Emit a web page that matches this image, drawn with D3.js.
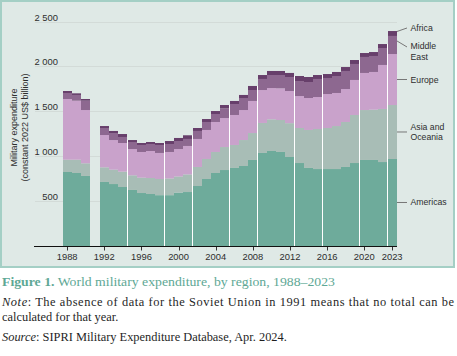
<!DOCTYPE html>
<html><head><meta charset="utf-8">
<script src="https://cdn.jsdelivr.net/npm/d3@7"></script>
<style>body{margin:0;background:#fff} svg{display:block}</style>
</head><body><svg id="c" width="457" height="356"></svg>
<script>
// ---- data (constant 2022 US$ billion); 1991 has no data ----
const years = d3.range(1988, 2024);
const americas = [824,813,780,null,713,690,657,624,590,579,566,566,595,601,668,746,813,846,869,891,958,1036,1058,1047,991,924,869,857,857,857,880,924,958,958,935,969];
const asiaOceania = [137,148,141,null,163,160,171,163,171,178,180,186,179,196,212,223,234,256,256,289,300,334,353,356,377,390,423,446,457,479,501,535,556,560,591,601];
const europe = [676,657,593,null,360,330,319,293,286,301,290,295,306,317,312,323,334,323,334,334,357,367,348,353,358,356,356,356,378,368,367,390,413,420,490,568];
const middleEast = [67,64,104,null,78,78,67,78,78,78,89,89,89,78,89,89,89,108,122,134,122,123,145,148,156,167,178,201,179,189,201,178,178,178,189,201];
const africa = [22,18,19,null,22,23,33,22,22,22,22,33,34,41,33,33,33,37,34,34,45,44,45,45,45,56,56,44,44,45,44,44,44,44,44,55];
const seriesKeys = ["americas","asia","europe","me","africa"];
const seriesNames = [["Americas"],["Asia and","Oceania"],["Europe"],["Middle","East"],["Africa"]];
const seriesColors = ["#6eab9b","#a8bdb6","#c9a2cb","#8d6890","#673f6b"];
const yTickValues = [500,1000,1500,2000,2500];
const yTickLabels = ["500","1 000","1 500","2 000","2 500"];
const xTickYears = [1988,1992,1996,2000,2004,2008,2012,2016,2020,2023];
const yTitle = ["Military expenditure","(constant 2022 US$ billion)"];
const captionBold = "Figure 1.";
const captionText = " World military expenditure, by region, 1988\u20132023";
const noteLines = ["The absence of data for the Soviet Union in 1991 means that no total can be","calculated for that year."];
const sourceText = "SIPRI Military Expenditure Database, Apr. 2024.";

// ---- table ----
const rows = years.map((yr,i)=>({year:yr, americas:americas[i], asia:asiaOceania[i], europe:europe[i], me:middleEast[i], africa:africa[i]}))
  .filter(r=>r.americas!=null);

const svg = d3.select("#c");
const sans = "'Liberation Sans', Arial, sans-serif";
const serif = "'Liberation Serif', 'Times New Roman', serif";

// panel
svg.append("rect").attr("x",1).attr("y",1).attr("width",453).attr("height",266)
  .attr("fill","#dfe9e6").attr("stroke","#a4cfc5").attr("stroke-width",2);

const x = d3.scaleLinear().domain([1987.5, 2023.5]).range([62.5, 396.8]);
const y = d3.scaleLinear().domain([0, 2500]).range([246, 21.5]);

// grid
svg.append("g").selectAll("line").data(yTickValues).join("line")
  .attr("x1",35).attr("x2",397)
  .attr("y1",d=>Math.round(y(d))+0.5).attr("y2",d=>Math.round(y(d))+0.5)
  .attr("stroke","#d3dbd8").attr("stroke-width",1);
svg.append("g").selectAll("text").data(yTickValues).join("text")
  .attr("x",58).attr("y",d=>Math.round(y(d))-1.5)
  .attr("text-anchor","end").attr("font-family",sans).attr("font-size",9.4).attr("fill","#2e2e2e")
  .text((d,i)=>yTickLabels[i]);

// stacked bars
const stacked = d3.stack().keys(seriesKeys)(rows);
const left = yr => Math.round(x(yr-0.5));
const bw = Math.floor(x(1989.5)-x(1988.5));

// seams between adjacent bars (white) where pixel snapping leaves a gap
const byYear = new Map(rows.map(r=>[r.year, r]));
const total = r => seriesKeys.reduce((s,k)=>s+r[k],0);
const seams = rows.filter(r=>byYear.has(r.year+1) && left(r.year)+bw < left(r.year+1));
svg.append("g").selectAll("rect").data(seams).join("rect")
  .attr("x",r=>left(r.year)+bw).attr("width",r=>left(r.year+1)-left(r.year)-bw)
  .attr("y",r=>y(Math.min(total(r), total(byYear.get(r.year+1)))))
  .attr("height",r=>y(0)-y(Math.min(total(r), total(byYear.get(r.year+1)))))
  .attr("fill","#ffffff");

svg.append("g").selectAll("g").data(stacked).join("g")
  .attr("fill",(d,i)=>seriesColors[i])
  .selectAll("rect").data(d=>d).join("rect")
  .attr("x",d=>left(d.data.year)).attr("width",bw)
  .attr("y",d=>y(d[1])).attr("height",d=>y(d[0])-y(d[1]));

// x axis
svg.append("line").attr("x1",34).attr("x2",397).attr("y1",246.5).attr("y2",246.5)
  .attr("stroke","#111").attr("stroke-width",1.1);
svg.append("g").selectAll("line").data(xTickYears).join("line")
  .attr("x1",d=>Math.round(x(d))+0.5).attr("x2",d=>Math.round(x(d))+0.5)
  .attr("y1",247).attr("y2",250.5).attr("stroke","#333");
svg.append("g").selectAll("text").data(xTickYears).join("text")
  .attr("x",d=>x(d)).attr("y",260.3).attr("text-anchor","middle")
  .attr("font-family",sans).attr("font-size",9.4).attr("fill","#2e2e2e").text(d=>d);

// y title
const yt = svg.append("g").attr("font-family",sans).attr("font-size",9).attr("fill","#2e2e2e").attr("text-anchor","middle");
yTitle.forEach((t,i)=>{
  const bx = [16.5, 28][i];
  yt.append("text").attr("transform",`translate(${bx},127.5) rotate(-90)`).text(t);
});

// right labels
const last = stacked.map(s=>s[s.length-1]);
const lab = svg.append("g").attr("font-family",sans).attr("font-size",8.7).attr("fill","#2e2e2e");
const labelOffsets = [0, 0, 0, 1, -5];      // text centre offset from segment middle (px)
const leaderEnd = [0, 0, 0, 2, -5.5];
last.forEach((d,i)=>{
  const mid = (y(d[0])+y(d[1]))/2;
  const lines = seriesNames[i];
  const cy = mid + labelOffsets[i];
  lab.append("line").attr("x1",397).attr("x2",407).attr("y1",i===3?mid-4:(i===4?mid-2:mid)).attr("y2",mid+leaderEnd[i])
    .attr("stroke","#777").attr("stroke-width",1);
  lines.forEach((t,j)=>{
    const ly = lines.length===1 ? cy : (i===3 ? cy + j*10.7 : cy - 5.35 + j*10.7);
    lab.append("text").attr("x",410.5).attr("y",ly+3).text(t);
  });
});

// caption
const cap = svg.append("text").attr("x",2).attr("y",286).attr("font-family",serif).attr("font-size",13.5).attr("fill","#5ea895");
cap.append("tspan").attr("font-weight","bold").text(captionBold);
cap.append("tspan").text(captionText);
cap.attr("textLength",333).attr("lengthAdjust","spacingAndGlyphs");

const n1 = svg.append("text").attr("x",2).attr("y",305.7).attr("font-family",serif).attr("font-size",12.4).attr("fill","#1f1f1f");
n1.append("tspan").attr("font-style","italic").text("Note");
n1.append("tspan").text(": "+noteLines[0]);
n1.attr("textLength",452).attr("lengthAdjust","spacing");
svg.append("text").attr("x",2).attr("y",321.2).attr("font-family",serif).attr("font-size",12.4).attr("fill","#1f1f1f").text(noteLines[1]);
const s1 = svg.append("text").attr("x",2).attr("y",341.3).attr("font-family",serif).attr("font-size",12.4).attr("fill","#1f1f1f");
s1.append("tspan").attr("font-style","italic").text("Source");
s1.append("tspan").text(": "+sourceText);
</script></body></html>
